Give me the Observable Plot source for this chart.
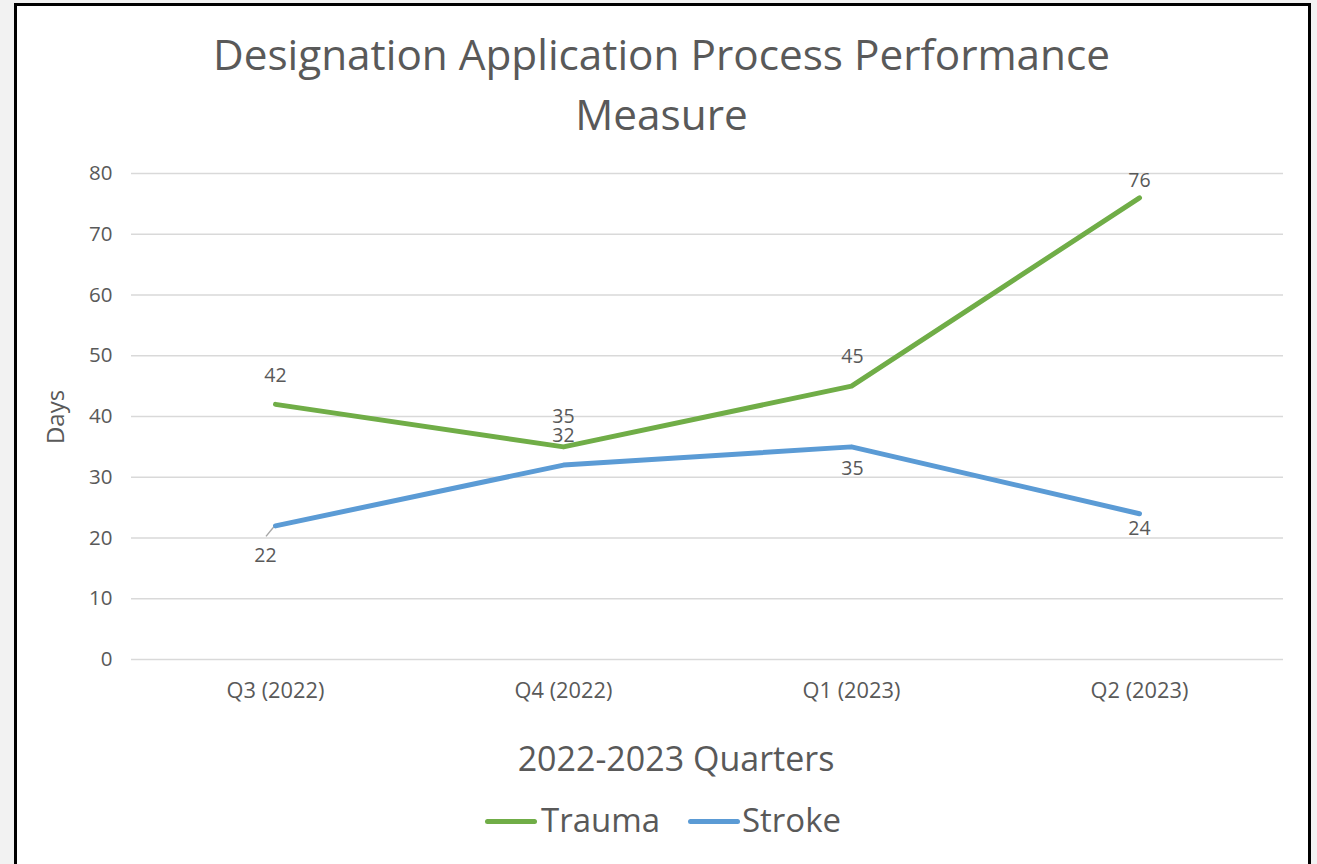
<!DOCTYPE html>
<html>
<head>
<meta charset="utf-8">
<script src="https://cdn.jsdelivr.net/npm/d3@7"></script>
<script src="https://cdn.jsdelivr.net/npm/@observablehq/plot@0.6"></script>
<style>
  html, body { margin: 0; padding: 0; }
  body { width: 1317px; height: 864px; overflow: hidden; background: #f2f2f2; position: relative; font-family: "Open Sans", sans-serif; color: #595959; }
  #frame { position: absolute; left: 14px; top: 3px; width: 1291px; height: 900px; border: 3px solid #000; background: #fff; }
  #title { position: absolute; left: 0; width: 1323px; top: 24px; text-align: center; font-size: 42.3px; line-height: 60px; white-space: nowrap; }
  #xtitle { position: absolute; left: 476px; width: 400px; top: 742px; text-align: center; font-size: 34px; line-height: 32px; white-space: nowrap; }
  #ytitle { position: absolute; left: 55px; top: 417px; font-size: 24px; line-height: 24px; white-space: nowrap; transform: translate(-50%, -50%) rotate(-90deg); }
  #legend { position: absolute; left: 0; top: 804px; width: 1317px; height: 32px; }
  .lg { position: absolute; top: 0; font-size: 33px; line-height: 32px; white-space: nowrap; }
  .sw { position: absolute; top: 15px; height: 5px; border-radius: 3px; }
  #chart { position: absolute; left: 0; top: 140px; }
</style>
</head>
<body>
<div id="frame"></div>
<div id="title">Designation Application Process Performance<br>Measure</div>
<div id="ytitle">Days</div>
<div id="xtitle">2022-2023 Quarters</div>
<div id="legend"></div>
<div id="chart"></div>
<script>
// ---- data ----
const quarters = ["Q3 (2022)", "Q4 (2022)", "Q1 (2023)", "Q2 (2023)"];
const seriesNames = ["Trauma", "Stroke"];
const trauma = [42, 35, 45, 76];
const stroke = [22, 32, 35, 24];
const yTicks = [0, 10, 20, 30, 40, 50, 60, 70, 80];

// ---- layout / style (not data) ----
const seriesColors = ["#70AD47", "#5B9BD5"];
const labelDy = { Trauma: [-29, -30, -29, -17], Stroke: [30, -29, 22, 15] };
const labelDx = { Trauma: [0, 0, 1, 0], Stroke: [-10, 0, 1, 0] };

const values = { Trauma: trauma, Stroke: stroke };
const rows = seriesNames.flatMap(s => quarters.map((q, i) => ({ q, series: s, v: values[s][i], i })));

const labelMarks = rows.map(r => Plot.text([r], {
  x: "q", y: "v", text: d => String(d.v),
  dy: labelDy[r.series][r.i], dx: labelDx[r.series][r.i],
  fill: "#595959", fontSize: 19.5
}));

// leader line for the displaced first Stroke label, positioned via scales
const leader = (index, scales) => {
  const px = scales.x(quarters[0]);
  const py = scales.y(stroke[0]);
  return d3.create("svg:line")
    .attr("x1", px).attr("y1", py).attr("x2", px - 9).attr("y2", py + 11)
    .attr("stroke", "#a6a6a6").attr("stroke-width", 1.5).node();
};

const chart = Plot.plot({
  width: 1317,
  height: 580,
  marginLeft: 131,
  marginRight: 34,
  marginTop: 33,
  marginBottom: 61,
  style: { fontFamily: "Open Sans", fontSize: "21px", color: "#595959", background: "transparent", overflow: "visible" },
  x: { type: "point", domain: quarters, padding: 0.5, label: null },
  y: { domain: [0, 80], label: null },
  color: { domain: seriesNames, range: seriesColors },
  marks: [
    Plot.gridY(yTicks, { stroke: "#d9d9d9", strokeOpacity: 1, strokeWidth: 1.5 }),
    Plot.axisY(yTicks, { tickSize: 0, tickPadding: 19, label: null, fontSize: 20.5 }),
    Plot.axisX({ tickSize: 0, tickPadding: 23, label: null, fontSize: 21.8 }),
    leader,
    Plot.line(rows, { x: "q", y: "v", z: "series", stroke: "series", strokeWidth: 5, strokeLinecap: "round", strokeLinejoin: "round" }),
    ...labelMarks
  ]
});
document.getElementById("chart").appendChild(chart);

// legend
const legend = document.getElementById("legend");
const legendPos = [{ sw: 485, tx: 541 }, { sw: 688, tx: 742 }];
seriesNames.forEach((s, i) => {
  const sw = document.createElement("div");
  sw.className = "sw";
  sw.style.left = legendPos[i].sw + "px";
  sw.style.width = "52px";
  sw.style.background = seriesColors[i];
  legend.appendChild(sw);
  const t = document.createElement("div");
  t.className = "lg";
  t.style.left = legendPos[i].tx + "px";
  t.textContent = s;
  legend.appendChild(t);
});
</script>
</body>
</html>
